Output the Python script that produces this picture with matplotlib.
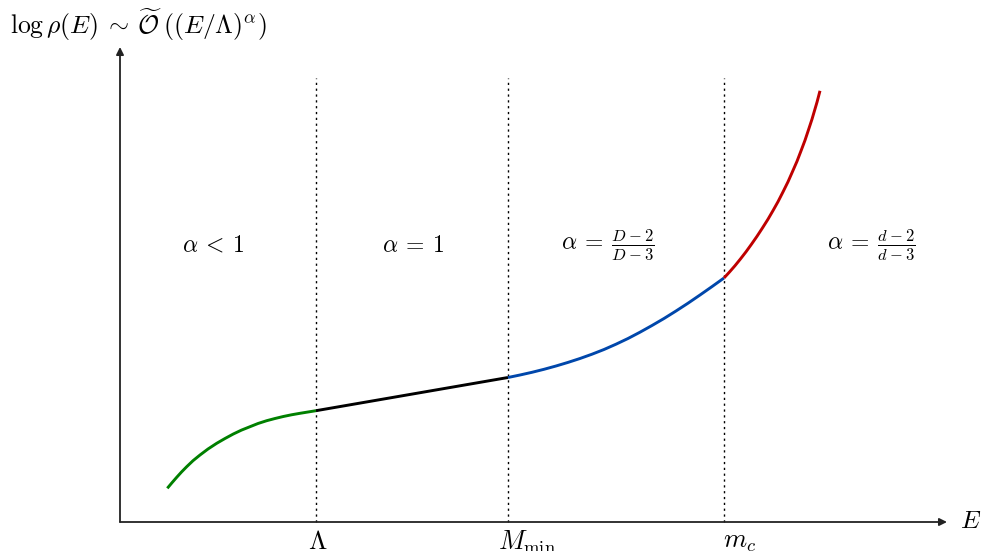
import matplotlib.pyplot as plt
plt.switch_backend('agg')

plt.rcParams['mathtext.fontset'] = 'cm'
plt.rcParams['font.family'] = 'serif'

# coordinates measured from the axis corner (x right, y up)
green_x = [47.3, 52, 56.7, 61.5, 66.7, 73, 80, 88, 96.7, 105, 113.3, 121.5,
           130, 138, 146.7, 155, 163.3, 171.5, 180, 188, 196]
green_y = [33.7, 39.3, 44.7, 50, 55.3, 61.3, 67, 73, 78.7, 83.5, 88, 91.9,
           95.3, 98.5, 101.3, 103.5, 105.5, 107.2, 108.7, 110, 111.3]
black_x = [196, 388]
black_y = [111.3, 144.5]
blue_x = [388, 400, 412, 424, 436, 448, 460, 472, 484, 496, 508, 520,
          532, 544, 556, 568, 580, 592, 604]
blue_y = [144.5, 147, 149.7, 152.7, 156, 159.6, 163.5, 167.8, 172.5, 177.8,
          183.5, 189.8, 196.5, 203.5, 211, 218.8, 227, 235.4, 244]
red_x = [604, 609.5, 615, 620.5, 626, 631.5, 637, 642.5, 648, 653, 658, 663,
         668, 672.5, 677, 681, 685, 688.5, 692, 694.5, 697, 698.5, 700]
red_y = [244, 250, 256.3, 263.1, 270.2, 277.8, 285.7, 294.1, 302.8, 311.4,
         320.3, 330.1, 340.2, 350.4, 360.7, 371.1, 381.7, 392.2, 402.8,
         411.3, 419.8, 425.5, 431.2]

bounds = [196, 388, 604]
bound_labels = [r'$\Lambda$', r'$M_{\min}$', r'$m_c$']
label_x = [198, 407, 620]
regions_x = [93, 293, 488, 751]
region_labels = [r'$\alpha\:<\:1$', r'$\alpha\:=\:1$',
                 r'$\alpha\:=\:\frac{D-2}{D-3}$', r'$\alpha\:=\:\frac{d-2}{d-3}$']
region_y = 277

fig = plt.figure(figsize=(9.81, 5.51), dpi=100)
ax = fig.add_axes([0, 0, 1, 1])
ax.set_xlim(-120, 861)
ax.set_ylim(-29, 522)
ax.axis('off')

# axes with arrow heads
ax.annotate('', xy=(827, 0), xytext=(0, 0),
            arrowprops=dict(arrowstyle='-|>', lw=1.3, color='#222222',
                            mutation_scale=11, shrinkA=0, shrinkB=0))
ax.annotate('', xy=(0, 475), xytext=(0, 0),
            arrowprops=dict(arrowstyle='-|>', lw=1.3, color='#222222',
                            mutation_scale=11, shrinkA=0, shrinkB=0))

for b in bounds:
    ax.plot([b, b], [0, 444], color='black', lw=1.0, ls=(0, (1.6, 2.6)))

ax.plot(green_x, green_y, color='#008000', lw=2.1, solid_capstyle='butt')
ax.plot(black_x, black_y, color='black', lw=2.1, solid_capstyle='butt')
ax.plot(blue_x, blue_y, color='#0047AB', lw=2.1, solid_capstyle='butt')
ax.plot(red_x, red_y, color='#BF0000', lw=2.1, solid_capstyle='butt')

for lx, lab in zip(label_x, bound_labels):
    ax.text(lx, -7, lab, ha='center', va='top', fontsize=19)

for rx, lab in zip(regions_x, region_labels):
    ax.text(rx, region_y, lab, ha='center', va='center', fontsize=17)

ax.text(840, 0, r'$E$', ha='left', va='center', fontsize=18)
ax.text(-110, 497,
        r'$\log\rho(E)\:\sim\:\widetilde{\mathcal{O}}\:((E/\Lambda)^{\alpha})$',
        ha='left', va='center', fontsize=18.5)

fig.savefig('out.png', dpi=100)
